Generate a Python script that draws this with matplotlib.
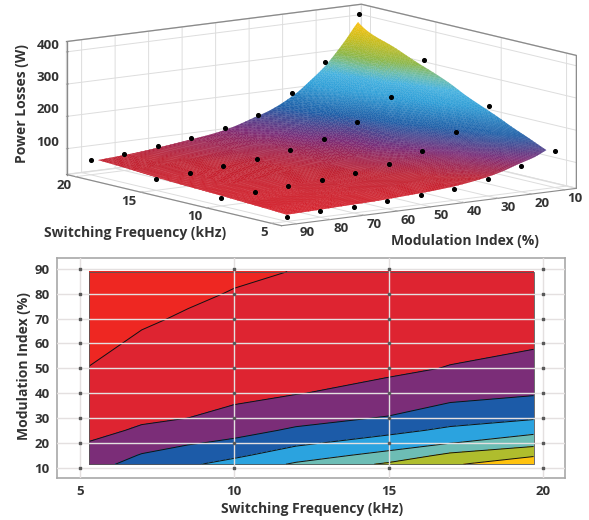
import numpy as np
import matplotlib
matplotlib.use('Agg')
import matplotlib.pyplot as plt
from matplotlib.colors import LinearSegmentedColormap, Normalize
from matplotlib.tri import Triangulation, UniformTriRefiner
from mpl_toolkits.mplot3d import Axes3D

plt.rcParams['font.family'] = ['Open Sans', 'DejaVu Sans']

# measured points (black dots)
dot_freq = [5, 10, 15, 20]
dot_mod = [10, 20, 30, 40, 50, 60, 70, 80, 90]
dot_loss = [
    [134, 100, 73, 55, 49, 44, 40, 38, 35],
    [225, 158, 112, 85, 70, 62, 56, 50, 46],
    [320, 216, 153, 114, 91, 79, 69, 62, 55],
    [414, 278, 196, 141, 112, 95, 83, 72, 66],
]

# fitted surface
surf_freq = [5.3, 7, 8.5, 10, 12, 15, 17, 19.7]
surf_mod = [11.4, 15, 20, 25, 30, 40, 50, 60, 70, 80, 88.9]
surf_loss = [
    [135, 118, 102, 85, 73, 58, 50.5, 45, 42, 39, 37],
    [165, 153, 130, 107, 92, 70, 60, 53, 47.5, 44, 41],
    [192, 170, 146, 121, 100, 78, 67, 58, 52, 47, 44],
    [219, 190, 158, 136, 114, 88, 73, 63, 56, 51, 47],
    [256, 228, 190, 156, 136, 98, 80, 70, 62, 55, 50.5],
    [308, 265, 224, 186, 153, 116, 91, 79, 69, 62, 56],
    [342, 312, 248, 210, 178, 133, 102, 88, 76, 68, 61],
    [392, 343, 282, 235, 195, 145, 113, 96, 83, 73, 67],
]

contour_levels = [0, 50, 100, 150, 200, 250, 300, 350, 450]
contour_colors = ['#ee2722', '#de2431', '#7b2d78', '#1c5ba8', '#2ba3df', '#6dbdb5', '#afbd2d', '#ffc20e']

freq_ticks = [5, 10, 15, 20]
mod_ticks = [10, 20, 30, 40, 50, 60, 70, 80, 90]
loss_ticks = [100, 200, 300, 400]

text_col = '#333333'
label_font = dict(fontsize=10, fontweight='bold', color=text_col)
tick_font = dict(fontsize=9.5, fontweight='bold', color=text_col)

surf_cmap = LinearSegmentedColormap.from_list('losses', [
    (0.0, '#d8202a'), (0.10, '#c02232'), (0.22, '#7b2d78'), (0.36, '#1f5fa8'),
    (0.52, '#2f9fd8'), (0.61, '#45b2e0'), (0.68, '#6cbdac'), (0.76, '#8db84a'),
    (0.88, '#c9bd1a'), (1.0, '#ffc20e')])

fig = plt.figure(figsize=(5.89, 5.2), dpi=100)

# top panel
xlo, xhi = 4.25, 20.7
ylo, yhi = 6.5, 94.5
zlo, zhi = 20, 432
side = 580
ax = fig.add_axes([(313.6 - side / 2) / 589, 1 - (122.8 + side / 2) / 520, side / 589, side / 520], projection='3d')
ax.set_proj_type('ortho')
ax.view_init(elev=10, azim=143.9)
ax.set_box_aspect((1, 1, 0.37), zoom=1.915 * 270.4 / side)
ax.computed_zorder = False
ax.patch.set_alpha(0)
ax.set_xlim(xlo, xhi)
ax.set_ylim(ylo, yhi)
ax.set_zlim(zlo, zhi)

F, M = np.meshgrid(surf_freq, surf_mod, indexing='ij')
# subdivide the mesh only so the colour runs smoothly across the facets
base_tri = Triangulation(F.ravel(), M.ravel())
fine_tri, fine_z = UniformTriRefiner(base_tri).refine_field(np.array(surf_loss).ravel(), subdiv=3)
surf = ax.plot_trisurf(fine_tri, fine_z, cmap=surf_cmap, norm=Normalize(35, 392), shade=False,
                       linewidth=0.15, zorder=2)
surf.set_edgecolor('face')

dF, dM = np.meshgrid(dot_freq, dot_mod, indexing='ij')
ax.scatter(dF.ravel(), dM.ravel(), np.array(dot_loss).ravel(), c='k', s=7, depthshade=False, zorder=3)

for axis in (ax.xaxis, ax.yaxis, ax.zaxis):
    axis.set_pane_color((1, 1, 1, 1))
    axis.pane.set_edgecolor('#dddddd')
    axis._axinfo['grid'].update(color='#dddddd', linewidth=0.7)
    axis._axinfo['tick'].update(inward_factor=0.0, outward_factor=0.08)
    axis.line.set_color('#8a8a8a')
ax.zaxis.set_ticks_position('upper')
ax.set_xticks(freq_ticks)
ax.set_yticks(mod_ticks)
ax.set_zticks(loss_ticks)
ax.set_xticklabels([str(v) for v in freq_ticks], ha='right', **tick_font)
ax.set_yticklabels([str(v) for v in mod_ticks], ha='left', **tick_font)
ax.set_zticklabels([str(v) for v in loss_ticks], ha='right', va='bottom', **tick_font)
ax.tick_params(axis='both', pad=-5, color='#aaaaaa')

# darker outline of the back of the box
ax.plot([xhi, xhi, xlo, xlo], [yhi, ylo, ylo, ylo], [zhi, zhi, zhi, zlo], color='#8a8a8a', lw=0.9, zorder=1)
ax.plot([xhi, xhi], [yhi, yhi], [zlo, zhi], color='#8a8a8a', lw=0.9, zorder=1)

fig.text(135 / 589, 1 - 233 / 520, 'Switching Frequency (kHz)', ha='center', va='center', **label_font)
fig.text(465 / 589, 1 - 241 / 520, 'Modulation Index (%)', ha='center', va='center', **label_font)
fig.text(22 / 589, 1 - 104 / 520, 'Power Losses (W)', ha='center', va='center', rotation=90, **label_font)

# bottom panel
ax2 = fig.add_axes([56.7 / 589, 1 - 477.7 / 520, 508.3 / 589, 219.7 / 520])
ax2.contourf(F, M, np.array(surf_loss), levels=contour_levels, colors=contour_colors, zorder=1)
ax2.contour(F, M, np.array(surf_loss), levels=contour_levels[1:-1], colors='#111111', linewidths=0.7, zorder=2)
ax2.add_patch(plt.Rectangle((surf_freq[0], surf_mod[0]), surf_freq[-1] - surf_freq[0], surf_mod[-1] - surf_mod[0],
                            fill=False, ec='#555555', lw=0.6, zorder=2))
ax2.set_xlim(4.245, 20.72)
ax2.set_ylim(5.97, 94.4)
ax2.set_xticks(freq_ticks)
ax2.set_yticks(mod_ticks)
ax2.set_xticklabels([str(v) for v in freq_ticks], **tick_font)
ax2.set_yticklabels([str(v) for v in mod_ticks], **tick_font)
ax2.tick_params(length=0, pad=5)
ax2.grid(True, color='#e4e0e0', linewidth=1.0, zorder=3)
ax2.set_axisbelow(False)
for sp in ax2.spines.values():
    sp.set_color('#a8a8a8')
    sp.set_linewidth(1.2)
ax2.scatter(dF.ravel(), dM.ravel(), c='#5a5a5a', s=4, marker='s', zorder=4, clip_on=False)
fig.text(312 / 589, 1 - 509 / 520, 'Switching Frequency (kHz)', ha='center', va='center', **label_font)
fig.text(24 / 589, 1 - 366 / 520, 'Modulation Index (%)', ha='center', va='center', rotation=90, **label_font)

fig.savefig('out.png', dpi=100)
